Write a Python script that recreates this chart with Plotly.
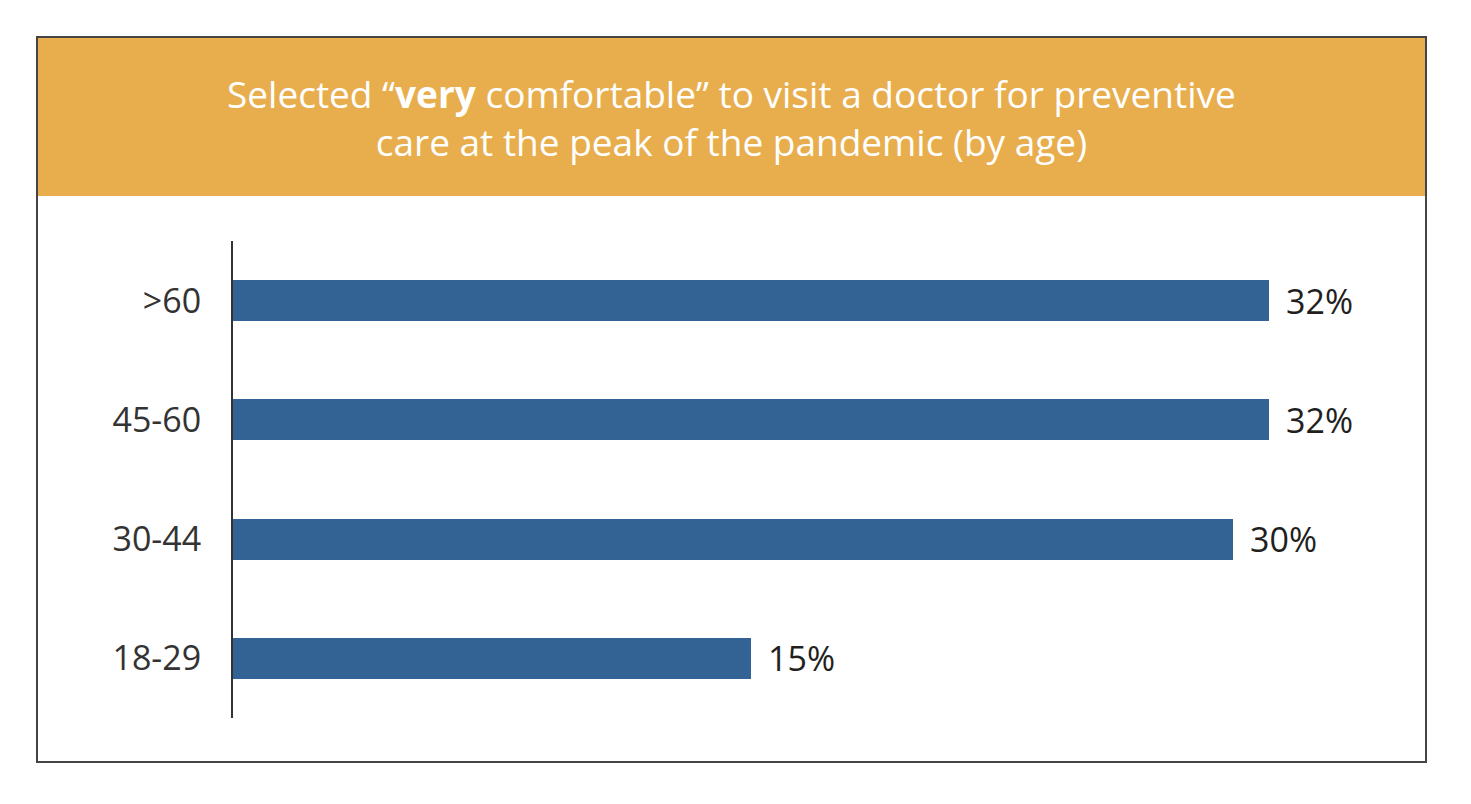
import plotly.graph_objects as go

age_groups = ["18-29", "30-44", "45-60", ">60"]
bar_values = [16.0, 30.9, 32.0, 32.0]
bar_labels = ["15%", "30%", "32%", "32%"]

title_text = "Selected “<b>very</b> comfortable” to visit a doctor for preventive<br>care at the peak of the pandemic (by age)"

# the page puts the figure 8px in from the window edge
OFF = 8
W, H = 1471 - 2 * OFF, 804 - 2 * OFF


def px_x(x):
    return (x - OFF) / W


def px_y(y):
    return 1 - (y - OFF) / H


fig = go.Figure()
fig.add_trace(go.Bar(
    x=bar_values,
    y=age_groups,
    orientation="h",
    marker=dict(color="#336395", line=dict(width=0)),
    width=0.345,
    hoverinfo="skip",
))

for v, lab, cat in zip(bar_values, bar_labels, age_groups):
    fig.add_annotation(
        x=v, y=cat, xref="x", yref="y",
        text=lab, showarrow=False,
        xanchor="left", yanchor="middle", xshift=15,
        font=dict(family="Open Sans", size=34, color="#231f20"),
    )

# header band and frame
fig.add_shape(type="rect", xref="paper", yref="paper",
              x0=px_x(37), x1=px_x(1426), y0=px_y(196), y1=px_y(37),
              fillcolor="#E8AE4D", line=dict(width=0), layer="below")
fig.add_shape(type="rect", xref="paper", yref="paper",
              x0=px_x(37), x1=px_x(1426), y0=px_y(762), y1=px_y(37),
              fillcolor="rgba(0,0,0,0)", line=dict(color="#444444", width=2))

fig.add_annotation(
    x=px_x(731), y=px_y(117), xref="paper", yref="paper",
    text=title_text, showarrow=False,
    xanchor="center", yanchor="middle", align="center",
    font=dict(family="Open Sans", size=37, color="white"),
)

fig.update_layout(
    width=W, height=H,
    margin=dict(l=0, r=0, t=0, b=0),
    paper_bgcolor="white",
    plot_bgcolor="white",
    showlegend=False,
    bargap=0,
    xaxis=dict(
        domain=[px_x(233), px_x(1426)],
        range=[0, 1193 / (1036 / 32)],
        visible=False,
        fixedrange=True,
    ),
    yaxis=dict(
        domain=[px_y(718), px_y(241)],
        range=[-0.5, 3.5],
        showline=True, linecolor="#333333", linewidth=2,
        showgrid=False, zeroline=False,
        ticks="", ticklabelstandoff=23,
        tickfont=dict(family="Open Sans", size=34, color="#333333"),
        fixedrange=True,
    ),
)

fig.write_html("out.html")
